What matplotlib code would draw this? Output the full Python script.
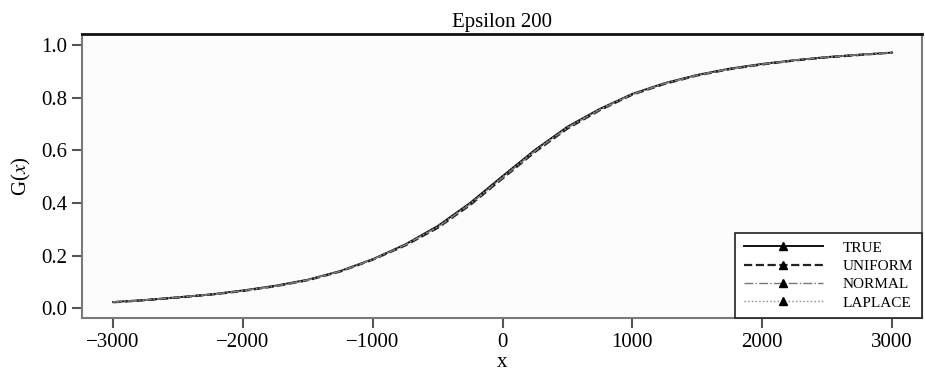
import matplotlib.pyplot as plt
from matplotlib.lines import Line2D
import numpy as np

plt.rcParams['font.family'] = ['Liberation Serif', 'DejaVu Serif']
plt.rcParams['mathtext.fontset'] = 'stix'

x = [-3000, -2750, -2500, -2250, -2000, -1750, -1500, -1250, -1000, -750,
     -500, -250, 0, 250, 500, 750, 1000, 1250, 1500, 1750, 2000, 2250,
     2500, 2750, 3000]
g_true = [0.023, 0.031, 0.041, 0.052, 0.067, 0.085, 0.108, 0.141, 0.186,
          0.242, 0.312, 0.400, 0.502, 0.602, 0.690, 0.758, 0.815, 0.856,
          0.887, 0.911, 0.929, 0.943, 0.955, 0.964, 0.972]
g_uniform = [0.022, 0.030, 0.040, 0.051, 0.065, 0.083, 0.106, 0.139, 0.184,
             0.238, 0.305, 0.392, 0.493, 0.594, 0.683, 0.753, 0.812, 0.853,
             0.885, 0.909, 0.927, 0.942, 0.954, 0.963, 0.972]
g_normal = [0.023, 0.031, 0.041, 0.052, 0.066, 0.084, 0.107, 0.140, 0.185,
            0.240, 0.308, 0.395, 0.496, 0.597, 0.686, 0.755, 0.813, 0.855,
            0.886, 0.910, 0.928, 0.943, 0.955, 0.964, 0.972]
g_laplace = [0.023, 0.031, 0.041, 0.052, 0.066, 0.084, 0.107, 0.140, 0.185,
             0.241, 0.310, 0.398, 0.499, 0.600, 0.688, 0.757, 0.814, 0.855,
             0.886, 0.910, 0.928, 0.943, 0.955, 0.964, 0.972]

series = [
    ('TRUE', g_true, '-', '#111111', 1.4),
    ('UNIFORM', g_uniform, '--', '#222222', 1.6),
    ('NORMAL', g_normal, '-.', '#777777', 1.0),
    ('LAPLACE', g_laplace, ':', '#888888', 1.0),
]

fig = plt.figure(figsize=(9.25, 3.8), dpi=100)
ax = fig.add_axes([0.0886, 0.163, 0.908, 0.747])
ax.set_facecolor('#fcfcfc')

handles = []
for name, vals, ls, col, lw in series:
    ax.plot(x, vals, linestyle=ls, color=col, linewidth=lw)
    handles.append(Line2D([], [], linestyle=ls, color=col, linewidth=lw,
                          marker='^', markersize=6, markerfacecolor='black',
                          markeredgecolor='black', label=name))

ax.set_xlim(-3240, 3230)
ax.set_ylim(-0.038, 1.042)
ax.set_xticks([-3000, -2000, -1000, 0, 1000, 2000, 3000])
ax.set_yticks([0.0, 0.2, 0.4, 0.6, 0.8, 1.0])
ax.set_yticklabels(['0.0', '0.2', '0.4', '0.6', '0.8', '1.0'])

for side in ['left', 'bottom', 'right']:
    ax.spines[side].set_color('#7a7a7a')
    ax.spines[side].set_linewidth(1.5)
ax.spines['top'].set_color('#111111')
ax.spines['top'].set_linewidth(2)
ax.tick_params(colors='#555555', labelcolor='black', labelsize=15,
               length=7, width=1.5)

ax.set_title('Epsilon 200', fontsize=15, pad=5)
ax.set_xlabel('x', fontsize=15, labelpad=1)
ax.set_ylabel(r'G($x$)', fontsize=15, labelpad=6)

leg = ax.legend(handles=handles, loc='lower right', fontsize=11,
                borderaxespad=0, fancybox=False, handlelength=5.2,
                labelspacing=0.3, borderpad=0.55, handletextpad=1.3,
                markerscale=1)
leg.get_frame().set_edgecolor('#222222')
leg.get_frame().set_linewidth(1.2)
leg.get_frame().set_facecolor('white')
leg.get_frame().set_alpha(1)

fig.savefig('out.png', dpi=100)
